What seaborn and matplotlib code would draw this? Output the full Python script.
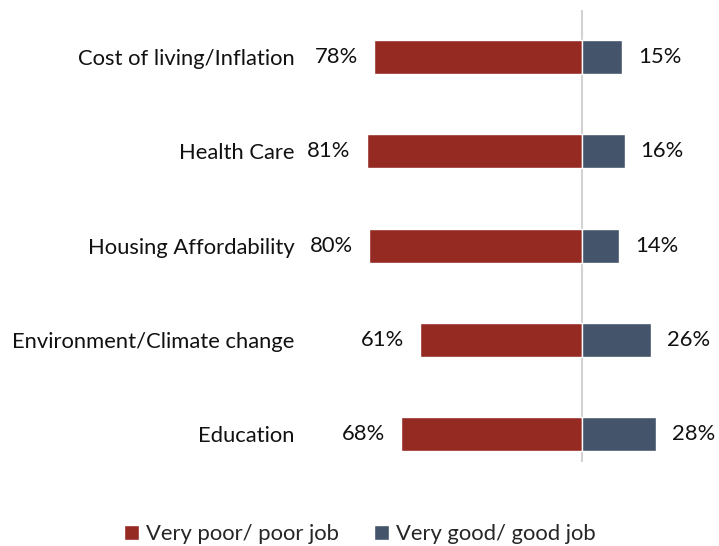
import matplotlib
matplotlib.use("Agg")
import matplotlib.pyplot as plt
import seaborn as sns
import pandas as pd
from matplotlib.patches import Patch

categories = ["Cost of living/Inflation", "Health Care", "Housing Affordability",
              "Environment/Climate change", "Education"]
poor = [78, 81, 80, 61, 68]
good = [15, 16, 14, 26, 28]
series_names = ["Very poor/ poor job", "Very good/ good job"]
colors = ["#952A23", "#44546A"]

sns.set_theme(style="white")
plt.rcParams['font.family'] = ['Lato', 'DejaVu Sans']

FS = 15.8

df = pd.DataFrame({
    "category": categories * 2,
    "value": [-v for v in poor] + good,
    "series": [series_names[0]] * len(categories) + [series_names[1]] * len(categories),
})

fig = plt.figure(figsize=(7.19, 5.46), dpi=100)
ax = fig.add_axes([300 / 719, 1 - 462 / 546, 415 / 719, 452 / 546])

sns.barplot(data=df, x="value", y="category", hue="series", dodge=False,
            palette=colors, width=0.36, ax=ax, legend=False, saturation=1,
            order=categories, hue_order=series_names)

ax.set_xlim(-106, 50)
ax.set_ylim(4.297, -0.5)
ax.axvline(0, color="#d3d3d3", lw=1.5, zorder=0)

for i, (p, g) in enumerate(zip(poor, good)):
    ax.annotate(f"{p}%", (-p, i), xytext=(-16, 0), textcoords="offset pixels",
                ha="right", va="center", fontsize=FS, color="#111111")
    ax.annotate(f"{g}%", (g, i), xytext=(16, 0), textcoords="offset pixels",
                ha="left", va="center", fontsize=FS, color="#111111")

ax.set_xlabel("")
ax.set_ylabel("")
ax.set_xticks([])
ax.tick_params(axis="y", length=0, pad=4, labelsize=FS, labelcolor="#111111")
for s in ax.spines.values():
    s.set_visible(False)

handles = [Patch(facecolor=c, label=n) for c, n in zip(colors, series_names)]
fig.legend(handles=handles, loc="center", bbox_to_anchor=(0.5, 1 - 534 / 546),
           ncol=2, frameon=False, fontsize=FS, handlelength=0.7, handleheight=0.7,
           handletextpad=0.3, columnspacing=1.6)

fig.savefig("out.png", dpi=100)
